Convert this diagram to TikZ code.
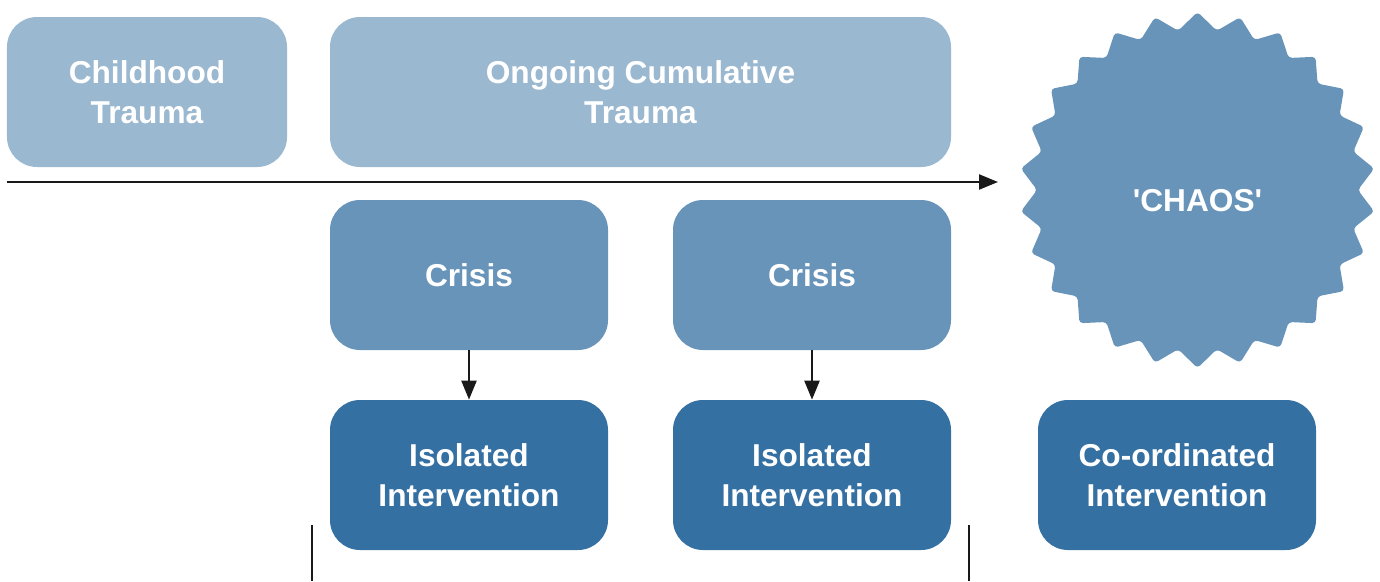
\documentclass[tikz,border=0pt]{standalone}
\usepackage{fontspec}
\setmainfont{Liberation Sans}
\usetikzlibrary{shapes.geometric,arrows.meta}
\definecolor{paleblue}{HTML}{9BB8D1}
\definecolor{midblue}{HTML}{6894BA}
\definecolor{deepblue}{HTML}{3570A3}
\begin{document}
\begin{tikzpicture}[
  box/.style={rounded corners=0.6cm,minimum height=3cm,text=white,align=center,
    font=\bfseries\fontsize{18}{22.5}\selectfont,inner sep=0pt},
  trauma/.style={box,fill=paleblue},
  crisisbox/.style={box,fill=midblue,minimum width=5.56cm},
  actbox/.style={box,fill=deepblue,minimum width=5.56cm},
  link/.style={line width=1.3pt,draw=black!90,-{Triangle[length=0.38cm,width=0.3cm]}}]
 \useasboundingbox (0,0) rectangle (27.6,11.62);
 % top row
 \node[trauma,minimum width=5.6cm] (child) at (2.94,9.78) {Childhood\\Trauma};
 \node[trauma,minimum width=12.42cm] (ongoing) at (12.81,9.78) {Ongoing Cumulative\\Trauma};
 % time line
 \coordinate (tstart) at (0.14,7.98);
 \coordinate (tend) at (19.96,7.98);
 \draw[link] (tstart) -- (tend);
 % crises and interventions
 \node[crisisbox] (crisisA) at (9.38,6.12) {Crisis};
 \node[crisisbox] (crisisB) at (16.24,6.12) {Crisis};
 \node[actbox] (isoA) at (9.38,2.12) {Isolated\\Intervention};
 \node[actbox] (isoB) at (16.24,2.12) {Isolated\\Intervention};
 \node[actbox] (coord) at (23.54,2.12) {Co-ordinated\\Intervention};
 \draw[link] (crisisA) -- (isoA);
 \draw[link] (crisisB) -- (isoB);
 % chaos
 \node[star,star points=26,star point ratio=1.11,minimum size=7.12cm,fill=midblue,
   rounded corners=2pt,text=white,font=\bfseries\fontsize{18}{22.5}\selectfont,inner sep=0pt]
   (chaos) at (23.95,7.82) {\raisebox{-0.42cm}[0pt][0pt]{\textquotesingle CHAOS\textquotesingle}};
 % brackets
 \coordinate (bl) at (6.24,1.12);
 \coordinate (blb) at (6.24,0);
 \coordinate (br) at (19.38,1.12);
 \coordinate (brb) at (19.38,0);
 \draw[line width=1.3pt,black!90] (bl) -- (blb);
 \draw[line width=1.3pt,black!90] (br) -- (brb);
\end{tikzpicture}
\end{document}
